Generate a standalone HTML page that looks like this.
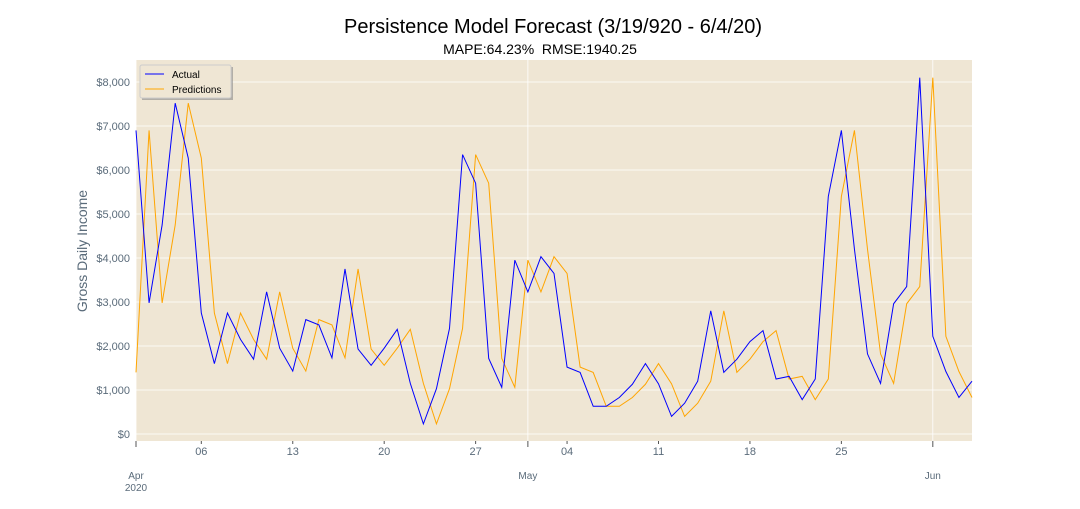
<!DOCTYPE html>
<html><head><meta charset="utf-8"><style>
body{margin:0;background:#fff;font-family:"Liberation Sans",sans-serif;}
svg text{font-family:"Liberation Sans",sans-serif;}
</style></head><body>
<svg id="chart" width="1080" height="504">
<text x="553" y="33" text-anchor="middle" font-size="20" fill="#000">Persistence Model Forecast (3/19/920 - 6/4/20)</text>
<text x="540" y="54" text-anchor="middle" font-size="14" fill="#000" style="white-space:pre" xml:space="preserve">MAPE:64.23%  RMSE:1940.25</text>
<rect x="136" y="60" width="836" height="381" fill="#efe6d4"/>
<g id="grid"></g><g id="axes"></g><g id="series"></g>
<text transform="translate(87,251) rotate(-90)" text-anchor="middle" font-size="14" fill="#5a6b7a">Gross Daily Income</text>
<g>
<rect x="142" y="67" width="91" height="33" fill="#888" opacity="0.6"/>
<rect x="140" y="65" width="91" height="33" fill="#efe6d4" stroke="#ccc" rx="2"/>
<line x1="145" y1="74" x2="164" y2="74" stroke="blue"/>
<text x="172" y="78" font-size="10">Actual</text>
<line x1="145" y1="89" x2="164" y2="89" stroke="orange"/>
<text x="172" y="93" font-size="10">Predictions</text>
</g>
</svg>
<script>
const actual=[6900,2980,4750,7520,6270,2750,1600,2750,2150,1700,3230,1950,1430,2600,2480,1730,3750,1930,1560,1950,2380,1150,230,1030,2400,6350,5700,1720,1060,3950,3230,4030,3650,1520,1400,630,630,830,1130,1600,1140,400,700,1200,2800,1400,1700,2100,2350,1250,1310,780,1250,5400,6900,4200,1820,1150,2960,3350,8100,2220,1420,830,1200];
const predictions=[1400].concat(actual.slice(0,-1));
const yTicks=[0,1000,2000,3000,4000,5000,6000,7000,8000];
const minorTickDays=[5,12,19,26,33,40,47,54];
const minorTickLabels=["06","13","20","27","04","11","18","25"];
const majorTickDays=[0,30,61];
const majorTickLabels=["Apr","May","Jun"];
const NS="http://www.w3.org/2000/svg";
const X0=136,X1=972,n=actual.length;
const xs=i=>X0+(X1-X0)*i/(n-1);
const ys=v=>434-v*0.044;
function mk(tag,attrs,parent){const e=document.createElementNS(NS,tag);for(const k in attrs)e.setAttribute(k,attrs[k]);document.getElementById(parent).appendChild(e);return e;}
yTicks.forEach(v=>{
 const g=mk('line',{x1:X0,x2:X1,y1:ys(v),y2:ys(v),stroke:'#fff','stroke-width':0.8},'grid');
 
 
 const t=mk('text',{x:130,y:ys(v)+4,'text-anchor':'end','font-size':11,fill:'#5a6b7a'},'axes');
 t.textContent='$'+v.toLocaleString('en-US');
 
 
});
majorTickDays.forEach((d,i)=>{
 const g=mk('line',{x1:xs(d),x2:xs(d),y1:60,y2:441,stroke:'#fff','stroke-width':0.8},'grid');
 
 
 mk('line',{x1:xs(d),x2:xs(d),y1:441,y2:447,stroke:'#555'},'axes');
 const t=mk('text',{x:xs(d),y:479,'text-anchor':'middle','font-size':10,fill:'#5a6b7a'},'axes');
 t.textContent=majorTickLabels[i];
 
 
});
const yr=mk('text',{x:xs(0),y:491,'text-anchor':'middle','font-size':10,fill:'#5a6b7a'},'axes');
yr.textContent='2020';


minorTickDays.forEach((d,i)=>{
 mk('line',{x1:xs(d),x2:xs(d),y1:441,y2:444,stroke:'#555'},'axes');
 const t=mk('text',{x:xs(d),y:455,'text-anchor':'middle','font-size':11,fill:'#5a6b7a'},'axes');
 t.textContent=minorTickLabels[i];
 
 
});
function line(arr,color,name){
 const p=mk('polyline',{points:arr.map((v,i)=>xs(i)+','+ys(v)).join(' '),fill:'none',stroke:color,'stroke-width':1},'series');
 
 
}
line(predictions,'orange','predictions-line');
line(actual,'blue','actual-line');
</script>
</body></html>
